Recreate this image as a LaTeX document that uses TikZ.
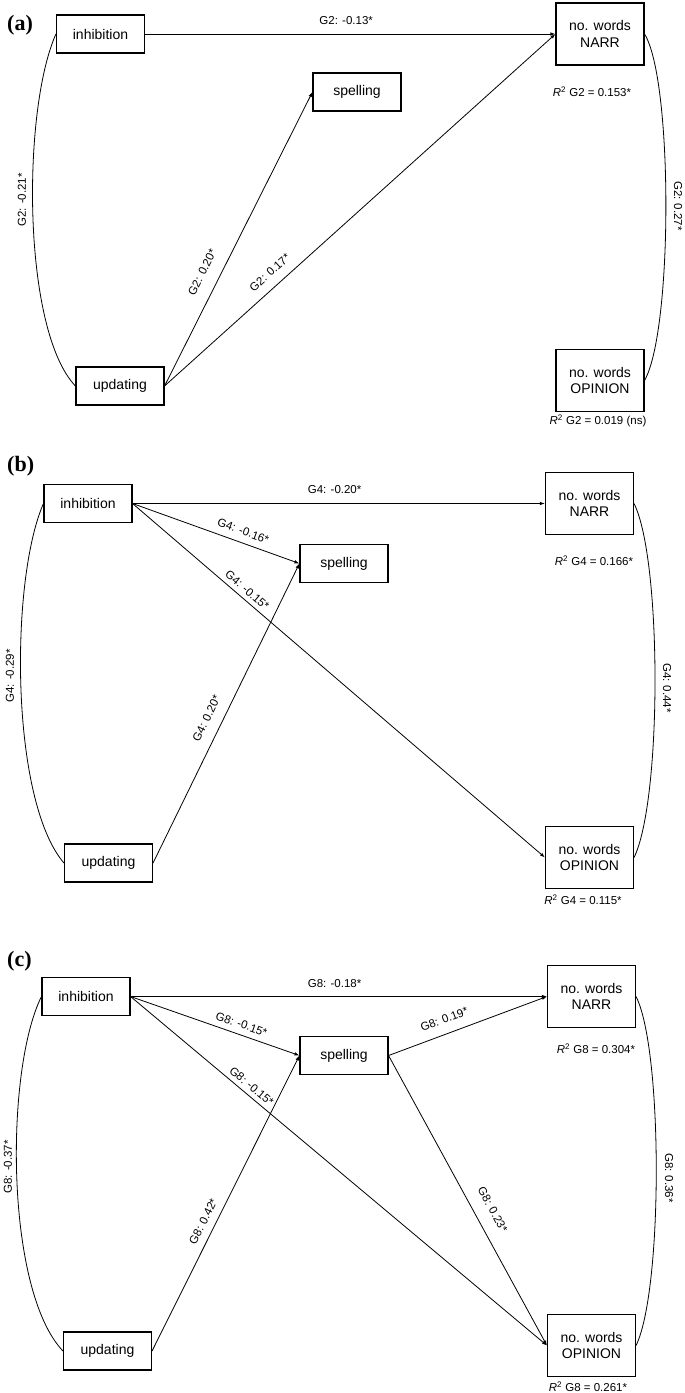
\documentclass[tikz,border=0pt]{standalone}
\usepackage{fontspec}
\setmainfont{Liberation Sans}
\newfontfamily\panelfont{Liberation Serif}
\usetikzlibrary{arrows.meta}
\tikzset{
  vbox/.style={draw, line width=1.1pt, minimum width=88pt, minimum height=38pt, inner sep=1pt, font=\fontsize{14}{16.5}\selectfont, align=center},
  obox/.style={vbox, minimum height=62pt},
  arr/.style={line width=0.8pt, -{Latex[length=5pt,width=3.5pt]}},
  cov/.style={line width=0.8pt},
  elbl/.style={font=\fontsize{11.5}{13}\selectfont, inner sep=1pt},
  rlbl/.style={font=\fontsize{11.5}{13}\selectfont, inner sep=0pt},
  panel/.style={font=\panelfont\bfseries\fontsize{22}{26}\selectfont, inner sep=0pt, anchor=base west},
}
\newcommand{\rsq}{\textit{R}\textsuperscript{2}}
\begin{document}
\begin{tikzpicture}[x=1pt,y=-1pt]
\useasboundingbox (0,0) rectangle (685,1393);
% ---------------- panel (a)
\node[panel] (pa) at (7,30) {(a)};
\node[vbox] (inhA) at (100.5,34) {inhibition};
\node[vbox] (spA) at (357,92) {spelling};
\node[vbox] (updA) at (120,386) {updating};
\node[obox] (narA) at (600,34) {no. words\\NARR};
\node[obox] (opA) at (600,380.5) {no. words\\OPINION};
\node[rlbl] (rnA) at (592,92) {\rsq{} G2 = 0.153*};
\node[rlbl] (roA) at (598,421) {\rsq{} G2 = 0.019 (ns)};
\draw[arr] (inhA.east) -- node[elbl, above=8pt, pos=0.49] (eA1) {G2: -0.13*} (narA.west);
\draw[arr] (updA.east) -- node[elbl, sloped, above=12pt, pos=0.36] (eA2) {G2: 0.20*} (spA.west);
\draw[arr] (updA.east) -- node[elbl, sloped, above=8.5pt, pos=0.293] (eA3) {G2: 0.17*} (narA.west);
\draw[cov] (inhA.west) .. controls (22,110) and (22,330) .. (updA.west);
\draw[cov] (narA.east) .. controls (673,80) and (673,330) .. (opA.east);
\node[elbl, rotate=90] (cLA) at (22,200) {G2: -0.21*};
\node[elbl, rotate=-90] (cRA) at (678,206) {G2: 0.27*};
% ---------------- panel (b)
\node[panel] (pb) at (7,471) {(b)};
\node[vbox] (inhB) at (88,503.5) {inhibition};
\node[vbox] (spB) at (344,563.5) {spelling};
\node[vbox] (updB) at (108.5,863) {updating};
\node[obox] (narB) at (589.5,503.5) {no. words\\NARR};
\node[obox] (opB) at (589.5,857.5) {no. words\\OPINION};
\node[rlbl] (rnB) at (594,561) {\rsq{} G4 = 0.166*};
\node[rlbl] (roB) at (583,900) {\rsq{} G4 = 0.115*};
\draw[arr] (inhB.east) -- node[elbl, above=8pt, pos=0.49] (eB1) {G4: -0.20*} (narB.west);
\draw[arr] (inhB.east) -- node[elbl, sloped, above=6pt, pos=0.64] (eB2) {G4: -0.16*} (spB.west);
\draw[arr] (inhB.east) -- node[elbl, sloped, above=3.5pt, pos=0.264] (eB3) {G4: -0.15*} (opB.west);
\draw[arr] (updB.east) -- node[elbl, sloped, above=10pt, pos=0.46] (eB4) {G4: 0.20*} (spB.west);
\draw[cov] (inhB.west) .. controls (10,580) and (10,800) .. (updB.west);
\draw[cov] (narB.east) .. controls (662,560) and (662,800) .. (opB.east);
\node[elbl, rotate=90] (cLB) at (10,676) {G4: -0.29*};
\node[elbl, rotate=-90] (cRB) at (667,688) {G4: 0.44*};
% ---------------- panel (c)
\node[panel] (pc) at (7,966) {(c)};
\node[vbox] (inhC) at (86,996.5) {inhibition};
\node[vbox] (spC) at (344,1055.5) {spelling};
\node[vbox] (updC) at (107.5,1351) {updating};
\node[obox] (narC) at (591.5,996.5) {no. words\\NARR};
\node[obox] (opC) at (591.5,1345.5) {no. words\\OPINION};
\node[rlbl] (rnC) at (596,1049) {\rsq{} G8 = 0.304*};
\node[rlbl] (roC) at (588,1387) {\rsq{} G8 = 0.261*};
\draw[arr] (inhC.east) -- node[elbl, above=7.5pt, pos=0.49] (eC1) {G8: -0.18*} (narC.west);
\draw[arr] (inhC.east) -- node[elbl, sloped, above=5pt, pos=0.636] (eC2) {G8: -0.15*} (spC.west);
\draw[arr] (inhC.east) -- node[elbl, sloped, above=3.5pt, pos=0.277] (eC3) {G8: -0.15*} (opC.west);
\draw[arr] (spC.east) -- node[elbl, sloped, above=9pt, pos=0.383] (eC4) {G8: 0.19*} (narC.west);
\draw[arr] (spC.east) -- node[elbl, sloped, above=12pt, pos=0.561] (eC5) {G8: 0.23*} (opC.west);
\draw[arr] (updC.east) -- node[elbl, sloped, above=6.5pt, pos=0.42] (eC6) {G8: 0.42*} (spC.west);
\draw[cov] (inhC.west) .. controls (5,1070) and (5,1290) .. (updC.west);
\draw[cov] (narC.east) .. controls (663,1050) and (663,1290) .. (opC.east);
\node[elbl, rotate=90] (cLC) at (8,1167) {G8: -0.37*};
\node[elbl, rotate=-90] (cRC) at (669,1178) {G8: 0.36*};
\end{tikzpicture}
\end{document}
